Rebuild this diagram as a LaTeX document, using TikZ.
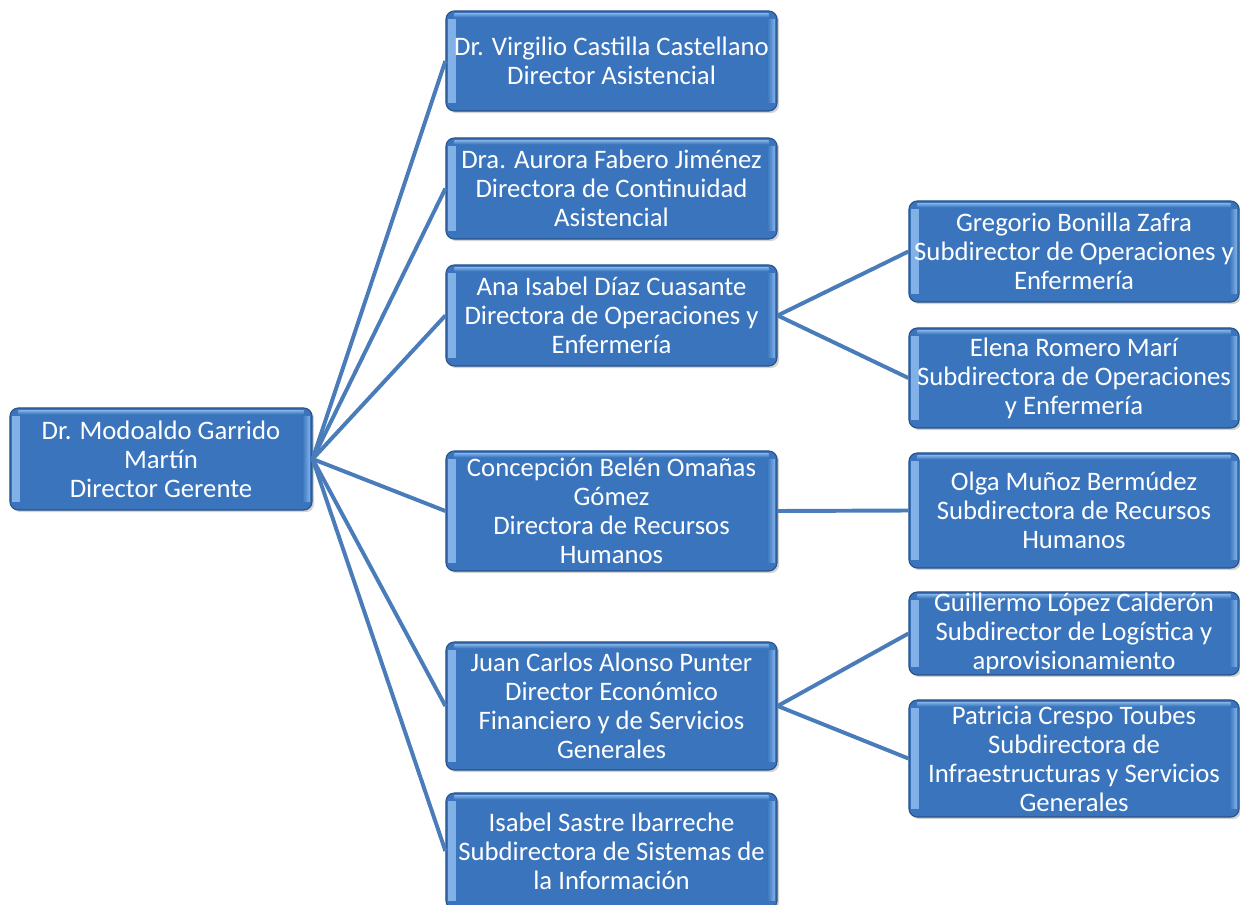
\documentclass[tikz,border=0pt]{standalone}
\usepackage{fontspec}
\setmainfont{Carlito}
\usetikzlibrary{shadows}

\definecolor{boxblue}{RGB}{57,116,189}
\definecolor{boxedge}{RGB}{40,82,136}
\definecolor{boxlight}{RGB}{130,178,232}
\definecolor{linkblue}{RGB}{74,124,186}

\newcommand{\boxfont}{\fontsize{19}{20.6}\selectfont}

\tikzset{
  box/.style={draw=boxedge, line width=0.8pt, fill=boxblue, rounded corners=6pt,
    text=white, align=center, font=\boxfont, inner sep=0pt,
    drop shadow={opacity=0.35, shadow xshift=1.5pt, shadow yshift=-1.5pt},
    path picture={
      \shade[sharp corners, left color=boxlight, right color=boxblue]
        ([xshift=1.5pt,yshift=-6pt]path picture bounding box.north west) rectangle
        ([xshift=7pt,yshift=6pt]path picture bounding box.south west);
      \shade[sharp corners, left color=boxblue, right color=boxlight]
        ([xshift=-7pt,yshift=-6pt]path picture bounding box.north east) rectangle
        ([xshift=-1.5pt,yshift=6pt]path picture bounding box.south east);
      \shade[sharp corners, top color=boxlight, bottom color=boxblue]
        ([xshift=6pt,yshift=-1.5pt]path picture bounding box.north west) rectangle
        ([xshift=-6pt,yshift=-4.5pt]path picture bounding box.north east);
    }},
  dirbox/.style={box, minimum width=8.275cm},
  subbox/.style={box, minimum width=8.25cm},
  link/.style={draw=linkblue, line width=2.8pt},
}

\begin{document}
\begin{tikzpicture}[x=0.025cm, y=-0.025cm]

\useasboundingbox (0,0) rectangle (1240,905);

% gerente
\node[box, minimum width=7.55cm, minimum height=2.55cm] (gerente) at (161,459)
  {Dr. Modoaldo Garrido\\Martín\\Director Gerente};

% directores
\node[dirbox, minimum height=2.5cm] (asist) at (611.5,61)
  {Dr. Virgilio Castilla Castellano\\Director Asistencial};
\node[dirbox, minimum height=2.525cm] (contin) at (611.5,188.5)
  {Dra. Aurora Fabero Jiménez\\Directora de Continuidad\\Asistencial};
\node[dirbox, minimum height=2.525cm] (operac) at (611.5,315.5)
  {Ana Isabel Díaz Cuasante\\Directora de Operaciones y\\Enfermería};
\node[dirbox, minimum height=3cm] (rrhh) at (611.5,511)
  {Concepción Belén Omañas\\Gómez\\Directora de Recursos\\Humanos};
\node[dirbox, minimum height=3.2cm] (econ) at (611.5,706)
  {Juan Carlos Alonso Punter\\Director Económico\\Financiero y de Servicios\\Generales};
\node[dirbox, minimum height=2.9cm] (sist) at (611.5,851)
  {Isabel Sastre Ibarreche\\Subdirectora de Sistemas de\\la Información};

% subdirectores
\node[subbox, minimum height=2.525cm] (subop1) at (1074,251.5)
  {Gregorio Bonilla Zafra\\Subdirector de Operaciones y\\Enfermería};
\node[subbox, minimum height=2.5cm] (subop2) at (1074,378)
  {Elena Romero Marí\\Subdirectora de Operaciones\\y Enfermería};
\node[subbox, minimum height=2.875cm] (subrrhh) at (1074,510.5)
  {Olga Muñoz Bermúdez\\Subdirectora de Recursos\\Humanos};
\node[subbox, minimum height=2.075cm] (sublog) at (1074,633.5)
  {Guillermo López Calderón\\Subdirector de Logística y\\aprovisionamiento};
\node[subbox, minimum height=2.925cm] (subinfra) at (1074,758.5)
  {Patricia Crespo Toubes\\Subdirectora de\\Infraestructuras y Servicios\\Generales};

% conexiones
\foreach \d in {asist,contin,operac,rrhh,econ,sist}
  \draw[link] (gerente.east) -- (\d.west);

\draw[link] (operac.east) -- (subop1.west);
\draw[link] (operac.east) -- (subop2.west);
\draw[link] (rrhh.east) -- (subrrhh.west);
\draw[link] (econ.east) -- (sublog.west);
\draw[link] (econ.east) -- (subinfra.west);

\end{tikzpicture}
\end{document}
